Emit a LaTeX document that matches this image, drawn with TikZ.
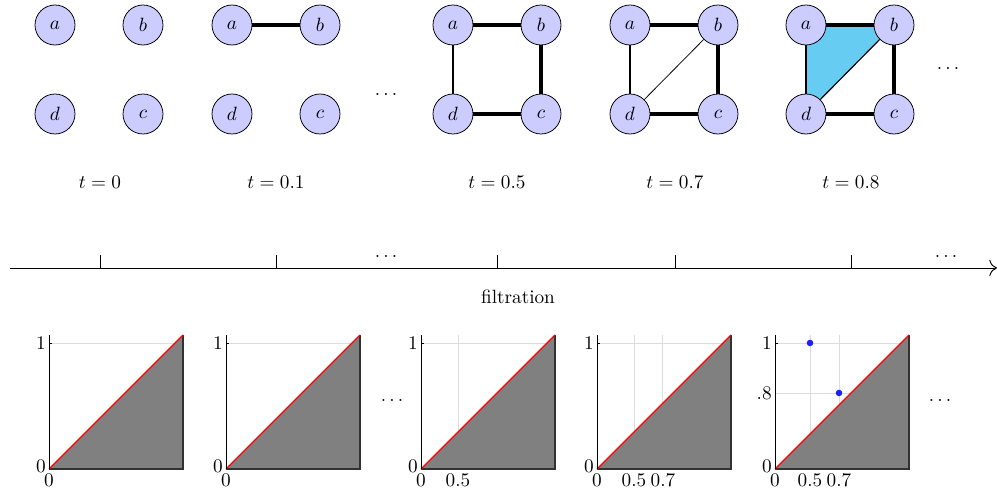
\documentclass[tikz,border=0pt]{standalone}
\usetikzlibrary{backgrounds,arrows.meta}
\definecolor{vfill}{RGB}{204,204,255}
\definecolor{tri}{RGB}{102,204,242}
\definecolor{gridc}{RGB}{221,221,221}
\definecolor{dark}{RGB}{50,50,50}
\definecolor{pt}{RGB}{30,30,255}
\tikzset{
  vtx/.style={circle,draw=black,fill=vfill,minimum size=20.8pt,inner sep=0pt},
  heavy/.style={line width=2.4pt},
  mid/.style={line width=1pt},
  fine/.style={line width=0.4pt},
  gridl/.style={draw=gridc,line width=0.5pt},
  lbl/.style={inner sep=1pt},
}
\newcommand\mkgraph[2]{%
  \node[vtx] (a#1) at (#2,25) {$a$};
  \node[vtx] (b#1) at ({#2+88},25) {$b$};
  \node[vtx] (d#1) at (#2,114) {$d$};
  \node[vtx] (c#1) at ({#2+88},114) {$c$};
}
\newcommand\mkplot[3]{%
  \coordinate (o#1) at (#2,469);
  \coordinate (r#1) at ({#2+134},469);
  \coordinate (t#1) at ({#2+134},335);
  \coordinate (u#1) at (#2,335);
  \draw[gridl] (#2,343) -- ({#2+134},343);
  #3
  \fill[gray] (o#1) -- (r#1) -- (t#1) -- cycle;
  \draw[dark,line width=1pt] (o#1) -- (r#1) -- (t#1);
  \draw[red,line width=0.6pt] (o#1) -- (t#1);
  \draw[line width=0.5pt] (o#1) -- (u#1);
  \draw[line width=0.5pt] (#2,343) -- ({#2+3},343);
  \node[lbl,anchor=east] (one#1) at ({#2-1},343) {1};
  \node[lbl,anchor=east] (zl#1) at ({#2-1},466) {0};
  \node[lbl,anchor=north] (zb#1) at (#2,471) {0};
}
\begin{document}
\begin{tikzpicture}[x=0.52pt,y=-0.52pt]
\useasboundingbox (0,0) rectangle (997,493);
% graphs
\mkgraph{1}{55}
\mkgraph{2}{232}
\mkgraph{3}{453}
\mkgraph{4}{630}
\mkgraph{5}{806}
\draw[heavy] (a2) -- (b2);
\draw[heavy] (a3) -- (b3);
\draw[heavy] (b3) -- (c3);
\draw[heavy] (d3) -- (c3);
\draw[mid] (a3) -- (d3);
\draw[heavy] (a4) -- (b4);
\draw[heavy] (b4) -- (c4);
\draw[heavy] (d4) -- (c4);
\draw[mid] (a4) -- (d4);
\draw[fine] (d4) -- (b4);
\begin{scope}[on background layer]
\fill[tri] (a5.center) -- (b5.center) -- (d5.center) -- cycle;
\end{scope}
\draw[heavy] (a5) -- (b5);
\draw[heavy] (b5) -- (c5);
\draw[heavy] (d5) -- (c5);
\draw[line width=1.4pt] (a5) -- (d5);
\draw[line width=0.6pt] (d5) -- (b5);
\node (dots1) at (386,94) {$\dots$};
\node (dots2) at (948,68) {$\dots$};
% time labels
\node (t0) at (100,182) {$t=0$};
\node (t1) at (276,182) {$t=0.1$};
\node (t5) at (497,182) {$t=0.5$};
\node (t7) at (675,182) {$t=0.7$};
\node (t8) at (851,182) {$t=0.8$};
% filtration axis
\coordinate (ax0) at (10,268);
\coordinate (ax1) at (997,268);
\draw[line width=0.5pt,-{To[length=4pt]}] (ax0) -- (ax1);
\foreach \x in {100,276,497,675,851} \draw[line width=0.5pt] (\x,255) -- (\x,268);
\node (adots1) at (386,256) {$\dots$};
\node (adots2) at (946,256) {$\dots$};
\node (filt) at (518,297) {filtration};
% persistence diagrams
\mkplot{1}{49}{}
\mkplot{2}{226}{}
\mkplot{3}{421}{\draw[gridl] (458,335) -- (458,469);}
\mkplot{4}{597}{\draw[gridl] (634,335) -- (634,469); \draw[gridl] (662,335) -- (662,469);}
\mkplot{5}{775}{\draw[gridl] (810,335) -- (810,469); \draw[gridl] (839,335) -- (839,469); \draw[gridl] (775,393) -- (908,393);}
\node[lbl,anchor=north] (h3) at (458,471) {0.5};
\node[lbl,anchor=north] (h4a) at (634,471) {0.5};
\node[lbl,anchor=north] (h4b) at (663,471) {0.7};
\node[lbl,anchor=north] (h5a) at (810,471) {0.5};
\node[lbl,anchor=north] (h5b) at (839,471) {0.7};
\node[lbl,anchor=east] (e8) at (774,393) {.8};
\fill[pt] (810,343) circle (1.7pt);
\fill[pt] (839,393) circle (1.7pt);
\node (pdots1) at (392,400) {$\dots$};
\node (pdots2) at (940,400) {$\dots$};
\end{tikzpicture}
\end{document}
